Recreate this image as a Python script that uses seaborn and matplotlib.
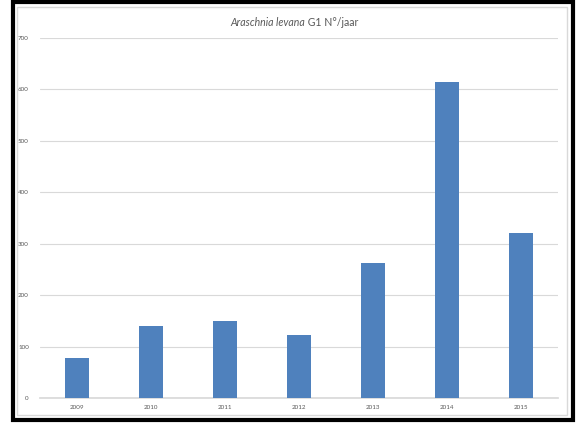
import matplotlib
matplotlib.use("Agg")
import matplotlib.pyplot as plt
import matplotlib.patches as patches
import seaborn as sns
import pandas as pd

# data
years = ["2009", "2010", "2011", "2012", "2013", "2014", "2015"]
counts = [78, 140, 150, 122, 262, 614, 321]

df = pd.DataFrame({"jaar": years, "aantal": counts})

sns.set_theme(style="white")
plt.rcParams["font.family"] = ["Lato", "DejaVu Sans"]

W, H = 579, 424
fig = plt.figure(figsize=(W / 100, H / 100), dpi=100)

# outer black frame and inner light chart border
fig.add_artist(patches.Rectangle((13 / W, 1 - 420 / H), (573 - 13) / W, (420 - 2) / H,
                                 transform=fig.transFigure, fill=False,
                                 edgecolor="black", linewidth=3))
fig.add_artist(patches.Rectangle((17 / W, 1 - 415 / H), (567 - 17) / W, (415 - 7) / H,
                                 transform=fig.transFigure, fill=False,
                                 edgecolor="#D9D9D9", linewidth=1))

ax = fig.add_axes([40 / W, 1 - 398 / H, 518 / W, 360 / H])
sns.barplot(data=df, x="jaar", y="aantal", color="#4F81BD", width=0.32,
            saturation=1, linewidth=0, ax=ax, zorder=3)

ax.set_ylim(0, 700)
ax.set_yticks(range(0, 701, 100))
ax.grid(axis="y", color="#D9D9D9", linewidth=0.8, zorder=0)
ax.set_xlabel("")
ax.set_ylabel("")
for s in ["top", "right", "left"]:
    ax.spines[s].set_visible(False)
ax.spines["bottom"].set_color("#D9D9D9")
ax.tick_params(axis="both", length=0, labelsize=4.5, colors="#595959")
ax.tick_params(axis="y", pad=8)
ax.tick_params(axis="x", pad=5)

# title: italic species name + regular rest, centred as a whole
ty = 1 - 22 / H
t1 = fig.text(0, ty, "Araschnia levana", ha="left", va="center",
              fontsize=7.6, style="italic", color="#595959")
t2 = fig.text(0, ty, " G1 N°/jaar", ha="left", va="center",
              fontsize=7.6, color="#595959")
r = fig.canvas.get_renderer()
w1 = t1.get_window_extent(r).width
w2 = t2.get_window_extent(r).width
x0 = 294 - (w1 + w2) / 2
t1.set_x(x0 / W)
t2.set_x((x0 + w1) / W)

fig.savefig("out.png", dpi=100)
